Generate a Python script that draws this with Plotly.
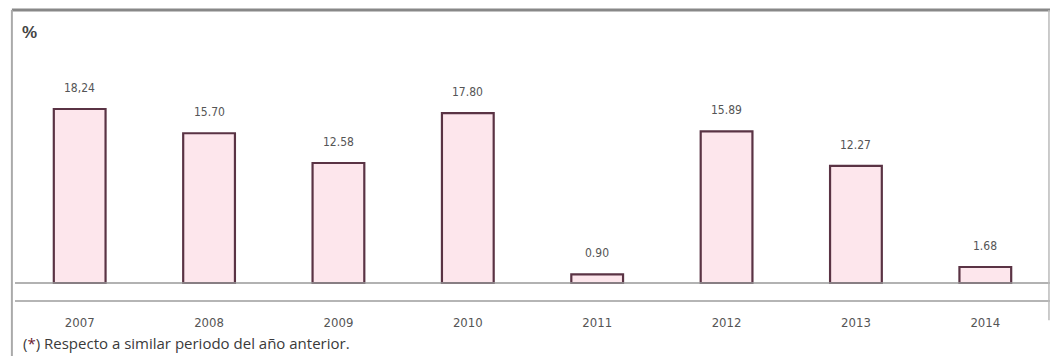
import plotly.graph_objects as go

years = ["2007", "2008", "2009", "2010", "2011", "2012", "2013", "2014"]
values = [18.24, 15.70, 12.58, 17.80, 0.90, 15.89, 12.27, 1.68]
labels = ["18,24", "15.70", "12.58", "17.80", "0.90", "15.89", "12.27", "1.68"]

fig = go.Figure()
fig.add_trace(go.Bar(
    x=years, y=values, width=0.4,
    marker=dict(color="#fde6ec", line=dict(color="#5a3344", width=2.2)),
    hoverinfo="skip",
))

for i, (v, lab) in enumerate(zip(values, labels)):
    fig.add_annotation(x=i, y=v, text=lab, showarrow=False, yshift=21,
                       font=dict(family="DejaVu Sans Condensed, Liberation Sans", size=12, color="#555555"))

fig.add_annotation(xref="paper", yref="paper", x=0.005, y=0.93, xanchor="left", yanchor="middle",
                   text="<b>%</b>", showarrow=False,
                   font=dict(family="Liberation Sans", size=17, color="#444444"))
fig.add_annotation(xref="paper", yref="paper", x=0.006, y=-0.148, xanchor="left", yanchor="middle",
                   text="(<span style='color:#6b1a2e'>*</span>) Respecto a similar periodo del año anterior.",
                   showarrow=False,
                   font=dict(family="Open Sans", size=15, color="#3a3a3a"))

# zero line and frame
fig.add_shape(type="line", xref="paper", yref="y", x0=0, x1=1, y0=0, y1=0,
              line=dict(color="#999999", width=1.5))
fig.add_shape(type="line", xref="paper", yref="paper", x0=-0.003, x1=1.0, y0=1.007, y1=1.007,
              line=dict(color="#888888", width=3))
fig.add_shape(type="line", xref="paper", yref="paper", x0=-0.003, x1=-0.003, y0=1.007, y1=-0.25,
              line=dict(color="#aaaaaa", width=2))
fig.add_shape(type="line", xref="paper", yref="paper", x0=0.999, x1=0.999, y0=1.007, y1=-0.07,
              line=dict(color="#bbbbbb", width=1.5))

fig.update_layout(
    width=1054, height=356,
    margin=dict(l=15, r=4, t=12, b=56),
    paper_bgcolor="white", plot_bgcolor="white",
    showlegend=False, bargap=0.6,
    xaxis=dict(type="category", range=[-0.5, 7.5], showgrid=False, zeroline=False, showline=True,
               linecolor="#b5b5b5", linewidth=1.5,
               ticks="", tickfont=dict(family="DejaVu Sans Condensed, Liberation Sans", size=13, color="#555555"),
               ticklabelstandoff=10),
    yaxis=dict(range=[-1.78, 28.41], visible=False, showgrid=False, zeroline=False),
)

fig.write_html("out.html")
